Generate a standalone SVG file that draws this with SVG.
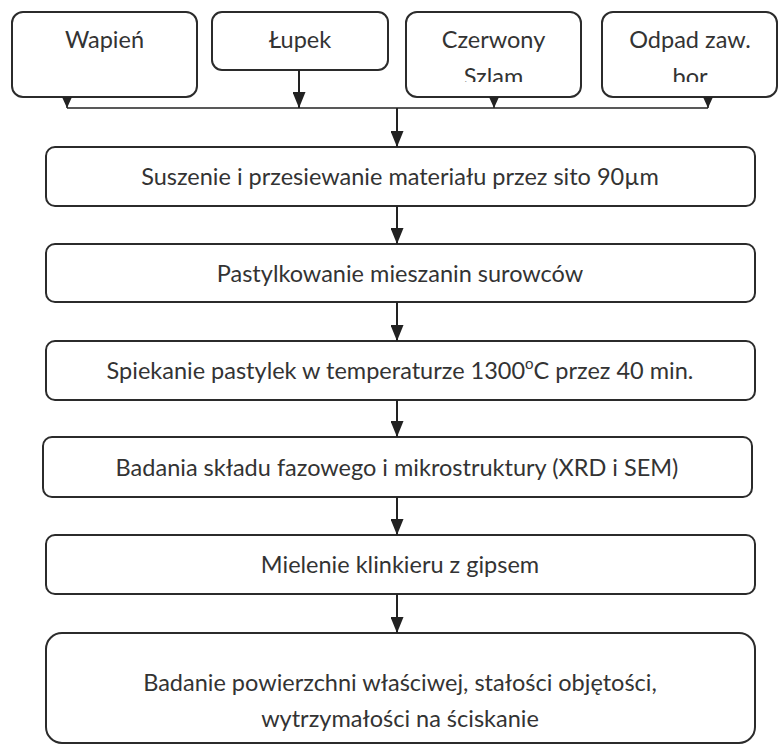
<svg xmlns="http://www.w3.org/2000/svg" width="779" height="746" viewBox="0 0 779 746">
<style>
.box{fill:#fff;stroke:#2b2b2b;stroke-width:2}
.t{font-family:Lato,"Open Sans","Liberation Sans",sans-serif;font-size:23.5px;fill:#333;text-anchor:middle}
.c{fill:none;stroke:#222;stroke-width:2}
.h{fill:none;stroke:#222;stroke-width:1.5}
</style>
<defs>
<marker id="big" viewBox="0 0 16 13" refX="16" refY="6.5" markerWidth="16" markerHeight="13" markerUnits="userSpaceOnUse" orient="auto">
<path d="M0,0 L16,6.5 L0,13 z" fill="#222"/>
</marker>
<marker id="small" viewBox="0 0 11 10" refX="11" refY="5" markerWidth="11" markerHeight="10" markerUnits="userSpaceOnUse" orient="auto">
<path d="M0,0 L11,5 L0,10 z" fill="#222"/>
</marker>
<clipPath id="clipC"><rect x="406" y="12" width="175" height="70"/></clipPath>
<clipPath id="clipO"><rect x="602" y="12" width="176" height="70"/></clipPath>
</defs>
<g id="n_wapien"><rect class="box" x="12" y="12" width="185" height="85" rx="11"/><text class="t" x="104.5" y="48">Wapień</text></g>
<g id="n_lupek"><rect class="box" x="212" y="12" width="176" height="58" rx="10"/><text class="t" x="300" y="48">Łupek</text></g>
<g id="n_czerwony"><rect class="box" x="406" y="12" width="175" height="85" rx="11"/><text class="t" x="493.5" y="48">Czerwony</text><text class="t" x="493.5" y="85" clip-path="url(#clipC)">Szlam</text></g>
<g id="n_odpad"><rect class="box" x="602" y="12" width="175" height="85" rx="11"/><text class="t" x="690" y="48">Odpad zaw.</text><text class="t" x="690" y="85" clip-path="url(#clipO)">bor</text></g>
<g id="n1"><rect class="box" x="46" y="147" width="709" height="59" rx="9"/><text class="t" x="400" y="185">Suszenie i przesiewanie materiału przez sito 90µm</text></g>
<g id="n2"><rect class="box" x="46" y="244" width="709" height="58" rx="9"/><text class="t" x="400" y="282">Pastylkowanie mieszanin surowców</text></g>
<g id="n3"><rect class="box" x="46" y="341" width="709" height="59" rx="9"/><text class="t" x="400" y="379">Spiekanie pastylek w temperaturze 1300<tspan font-size="15" dy="-10">o</tspan><tspan dy="10">C przez 40 min.</tspan></text></g>
<g id="n4"><rect class="box" x="43" y="437" width="709" height="60" rx="9"/><text class="t" x="397" y="476">Badania składu fazowego i mikrostruktury (XRD i SEM)</text></g>
<g id="n5"><rect class="box" x="46" y="535" width="709" height="59" rx="9"/><text class="t" x="400" y="573">Mielenie klinkieru z gipsem</text></g>
<g id="n6"><rect class="box" x="46" y="633" width="709" height="110" rx="16"/><text class="t" x="400" y="691">Badanie powierzchni właściwej, stałości objętości,</text><text class="t" x="400" y="727">wytrzymałości na ściskanie</text></g>
<g id="connectors">
<path class="h" d="M67,108 L708,108"/>
<path class="h" d="M67,97 L67,108" marker-end="url(#small)"/>
<path class="h" d="M494,97 L494,108" marker-end="url(#small)"/>
<path class="h" d="M708,97 L708,108" marker-end="url(#small)"/>
<path class="c" d="M299,70 L299,108" marker-end="url(#big)"/>
<path class="c" d="M397,108 L397,147" marker-end="url(#big)"/>
<path class="c" d="M397,206 L397,244" marker-end="url(#big)"/>
<path class="c" d="M397,302 L397,341" marker-end="url(#big)"/>
<path class="c" d="M397,400 L397,437" marker-end="url(#big)"/>
<path class="c" d="M397,497 L397,535" marker-end="url(#big)"/>
<path class="c" d="M397,594 L397,633" marker-end="url(#big)"/>
</g>
</svg>
